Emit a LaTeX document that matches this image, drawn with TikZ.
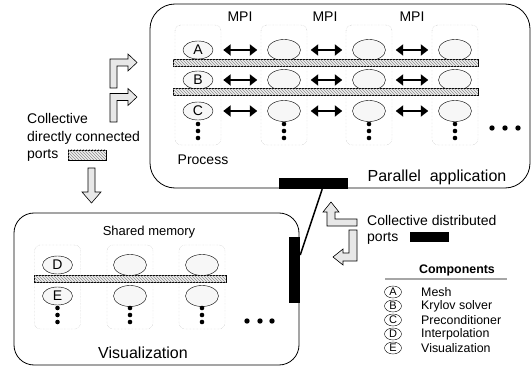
\documentclass[tikz,border=0pt]{standalone}
\usepackage{fontspec}
\setmainfont{Liberation Sans}
\usetikzlibrary{arrows.meta,patterns,calc,shapes.geometric}

\newcommand*{\ColW}{46}
\newcommand*{\ProcColumns}[3]{% #1 = list of x centres, #2 = top, #3 = bottom
  \foreach \x in {#1} {
    \draw[proccol] (\x-\ColW/2,#2) rectangle (\x+\ColW/2,#3);
  }%
}
\newcommand*{\VDots}[2]{% #1 = list of x centres, #2 = top dot
  \foreach \x in {#1} {
    \foreach \k in {0,1,2}
      \fill (\x,#2+7*\k) circle (2.3pt);
  }%
}

\tikzset{
  proccol/.style={draw=gray!55, densely dotted, rounded corners=6pt},
  comp/.style={ellipse, draw, fill=gray!6, minimum width=30pt, minimum height=18pt,
    inner sep=0pt, font=\fontsize{14}{14}\selectfont},
  blank/.style={comp, minimum width=33pt, minimum height=21pt},
  legcomp/.style={ellipse, draw, minimum width=17pt, minimum height=12pt,
    inner sep=0pt, font=\fontsize{11}{11}\selectfont},
  hatchbar/.style={draw, line width=0.5pt, fill=gray!12,
    postaction={pattern=north west lines, pattern color=gray!90}},
  portbar/.style={fill=black, draw=none, inner sep=0pt},
  mpi/.style={{Triangle[length=7.5pt,width=11pt]}-{Triangle[length=7.5pt,width=11pt]},
    line width=2pt, shorten <=10pt, shorten >=10pt},
  bent/.style={draw, fill=gray!18, line width=0.6pt},
  appbox/.style={draw, line width=0.8pt},
  txt/.style={inner sep=0pt, font=\fontsize{14}{17.5}\selectfont},
}

\begin{document}
\begin{tikzpicture}[x=1pt,y=-1pt]
    \useasboundingbox (0,0) rectangle (531,369);

    % parallel application
    \begin{scope}
        \draw[appbox, rounded corners=25pt] (150,4) rectangle (530,188);
        \ProcColumns{198,284,369,455}{25}{145}
        \foreach \y/\r/\l in {50/1/A,80/2/B,111/3/C} {
            \node[comp] (t1\r) at (198,\y) {\l};
            \foreach \x/\i in {284/2,369/3,455/4}
                \node[blank] (t\i\r) at (\x,\y) {};
        }
        \foreach \r in {1,2,3}
            \foreach \i/\k in {1/2,2/3,3/4}
                \draw[mpi] (t\i\r) -- (t\k\r);
        \draw[hatchbar] (173,59.5) rectangle (478,66.5);
        \draw[hatchbar] (173,88.5) rectangle (478,95.5);
        \VDots{198,284,369,455}{124}
        \foreach \x in {492,505,518} \fill (\x,128) circle (2.7pt);
        \foreach \x/\m in {240/1,325/2,412/3}
            \node[txt] (mpi\m) at (\x,17) {MPI};
        \node[txt] (proc) at (203,160) {Process};
        \node[txt, font=\fontsize{16}{16}\selectfont] (app) at (437,177) {Parallel\ \ application};
        \node[portbar, minimum width=69pt, minimum height=11pt] (distTop) at (313.5,183.5) {};
    \end{scope}

    % visualization
    \begin{scope}
        \draw[appbox, rounded corners=20pt] (14,213) rectangle (299,365);
        \ProcColumns{57.5,130,202}{245}{329}
        \node[comp] (b11) at (57.5,265) {D};
        \node[comp] (b12) at (57.5,296) {E};
        \foreach \x/\i in {130/2,202/3} {
            \node[blank] (b\i1) at (\x,265) {};
            \node[blank] (b\i2) at (\x,296) {};
        }
        \draw[hatchbar] (34,275) rectangle (226,282);
        \VDots{57.5,130,202}{308}
        \foreach \x in {247,260,272} \fill (\x,321) circle (2.7pt);
        \node[txt, font=\fontsize{13}{13}\selectfont] (shm) at (149,232) {Shared memory};
        \node[txt, font=\fontsize{16}{16}\selectfont] (vis) at (143,353) {Visualization};
        \node[portbar, minimum width=11pt, minimum height=66pt] (distBot) at (294.5,270) {};
    \end{scope}

    \draw[line width=1.5pt] ($(distTop.south)!0.25!(distTop.south east)$)
        -- ($(distBot.north east)!0.55!(distBot.east)$);

    % bent arrows
    \draw[bent] (110,88) -- (110,59) -- (128,59) -- (128,54) -- (137,62.5)
        -- (128,71) -- (128,66) -- (117,66) -- (117,88) -- cycle;
    \draw[bent] (110,122) -- (110,93.5) -- (128,93.5) -- (128,88.5) -- (137,97)
        -- (128,105.5) -- (128,100.5) -- (117,100.5) -- (117,122) -- cycle;
    \draw[bent] (88,168) -- (95,168) -- (95,192) -- (101,192) -- (91.5,203)
        -- (82,192) -- (88,192) -- cycle;
    \draw[bent] (357,219) -- (335,219) -- (335,212) -- (339,212) -- (331,202)
        -- (323,212) -- (327,212) -- (327,226) -- (357,226) -- cycle;
    \draw[bent] (349,230) -- (357,230) -- (357,261) -- (343,261) -- (343,265)
        -- (333,257) -- (343,249) -- (343,253) -- (349,253) -- cycle;

    % port keys
    \node[txt, anchor=west, align=left] (ddports) at (27,137.5)
        {Collective\\directly connected\\ports};
    \node[hatchbar, minimum width=38pt, minimum height=10pt, inner sep=0pt] (ddkey) at (87,155) {};
    \node[txt, anchor=west, align=left, font=\fontsize{14}{16}\selectfont] (cdports) at (367,230)
        {Collective distributed\\ports};
    \node[portbar, minimum width=39pt, minimum height=10pt] (cdkey) at (429.5,237) {};

    % legend
    \node[txt, font=\fontsize{12.4}{12.4}\selectfont\bfseries] (legtitle) at (457,270) {Components};
    \draw[gray!70, line width=1.2pt] (385,279) -- (507,279);
    \foreach \l/\t [count=\n] in {A/Mesh,B/Krylov solver,C/Preconditioner,D/Interpolation,E/Visualization} {
        \node[legcomp] (leg\l) at (393,278+14*\n) {\l};
        \node[txt, anchor=west, font=\fontsize{12.4}{12.4}\selectfont] (legt\l) at (421,278+14*\n) {\t};
    }
\end{tikzpicture}
\end{document}
